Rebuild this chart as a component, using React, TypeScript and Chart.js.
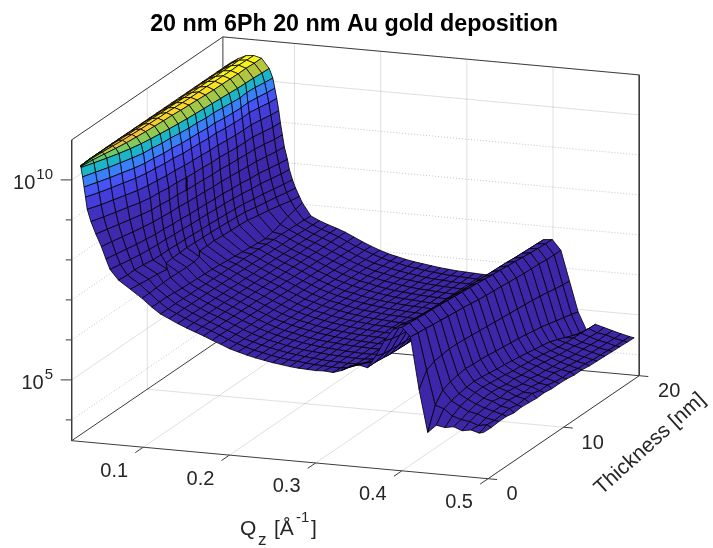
import React, { useEffect, useRef } from "react";
import { Chart, registerables } from "chart.js";

Chart.register(...registerables);

const titleText = "20 nm 6Ph 20 nm Au gold deposition";
const qTicks = [0.1, 0.2, 0.3, 0.4, 0.5];
const tTicks = [0, 10, 20];
const zMajor = [5, 10];
const zMinor = [4, 6, 7, 8, 9, 11];

// thickness rows of the surface
const thickness = [0, 1, 2, 3, 4, 5, 6, 7, 8, 9, 10, 11, 12, 13, 14, 15, 16, 17, 18, 19, 19.9];

// plateau below the critical edge: Q runs from qStart to qEdge of the row, through these fractions
const qStart = 0.027;
const plateauSteps = [0, 0.2, 0.4, 0.6, 0.8, 1];
const qEdge = [0.0278, 0.034, 0.04, 0.0455, 0.05, 0.0535, 0.056, 0.058, 0.06, 0.0615, 0.063, 0.064, 0.065, 0.066, 0.067, 0.068, 0.069, 0.0695, 0.07, 0.071, 0.0716];
const logPlateau = [
  [10.37, 10.37, 10.37, 10.36, 10.35, 10.33],
  [10.38, 10.41, 10.43, 10.43, 10.4, 10.33],
  [10.38, 10.43, 10.46, 10.47, 10.43, 10.33],
  [10.38, 10.45, 10.49, 10.5, 10.45, 10.33],
  [10.39, 10.46, 10.51, 10.52, 10.47, 10.33],
  [10.39, 10.47, 10.52, 10.54, 10.49, 10.33],
  [10.39, 10.47, 10.53, 10.55, 10.5, 10.33],
  [10.39, 10.48, 10.54, 10.56, 10.51, 10.33],
  [10.39, 10.48, 10.55, 10.57, 10.52, 10.33],
  [10.39, 10.48, 10.55, 10.58, 10.53, 10.33],
  [10.39, 10.48, 10.56, 10.58, 10.53, 10.33],
  [10.39, 10.48, 10.56, 10.58, 10.53, 10.33],
  [10.39, 10.48, 10.56, 10.58, 10.53, 10.33],
  [10.39, 10.49, 10.56, 10.59, 10.53, 10.33],
  [10.39, 10.49, 10.57, 10.6, 10.53, 10.33],
  [10.39, 10.5, 10.58, 10.6, 10.54, 10.33],
  [10.39, 10.5, 10.58, 10.61, 10.55, 10.33],
  [10.39, 10.5, 10.59, 10.61, 10.55, 10.33],
  [10.39, 10.5, 10.59, 10.62, 10.56, 10.33],
  [10.39, 10.51, 10.6, 10.62, 10.56, 10.33],
  [10.39, 10.51, 10.6, 10.62, 10.57, 10.33],
];

// the fall after the edge: Q of each row at which log10(intensity) reaches these levels
const fallLevels = [10.1, 9.85, 9.6, 9.3, 9.0, 8.7, 8.4, 8.1, 7.85, 7.6, 7.4, 7.2];
const qFall = [
  [0.0296, 0.0313, 0.033, 0.035, 0.0393, 0.045, 0.0514, 0.0567, 0.0614, 0.0714, 0.085, 0.0985],
  [0.0358, 0.0379, 0.04, 0.0423, 0.0452, 0.0494, 0.0547, 0.0597, 0.0646, 0.0729, 0.087, 0.0985],
  [0.0421, 0.0438, 0.0454, 0.0476, 0.0506, 0.0539, 0.0582, 0.063, 0.0676, 0.0723, 0.0889, 0.0975],
  [0.0471, 0.0488, 0.0505, 0.053, 0.0555, 0.0583, 0.0617, 0.0659, 0.07, 0.0737, 0.0901, 0.097],
  [0.0521, 0.0543, 0.056, 0.0582, 0.0609, 0.0625, 0.0649, 0.0682, 0.0718, 0.0761, 0.0928, 0.0965],
  [0.0563, 0.0579, 0.0595, 0.0616, 0.0643, 0.0658, 0.0676, 0.0703, 0.0729, 0.0769, 0.0826, 0.0973],
  [0.0576, 0.0594, 0.0612, 0.0634, 0.0655, 0.067, 0.0687, 0.0709, 0.0735, 0.0768, 0.0813, 0.0977],
  [0.0605, 0.0623, 0.0636, 0.0657, 0.0681, 0.069, 0.0706, 0.0729, 0.0748, 0.0777, 0.081, 0.0975],
  [0.0613, 0.0629, 0.0644, 0.0665, 0.0686, 0.0696, 0.071, 0.0734, 0.0754, 0.0781, 0.0802, 0.095],
  [0.0635, 0.0656, 0.0671, 0.0688, 0.0707, 0.0717, 0.0728, 0.0751, 0.0767, 0.0791, 0.081, 0.0865],
  [0.0652, 0.0666, 0.068, 0.0697, 0.0719, 0.0727, 0.074, 0.0758, 0.0774, 0.08, 0.0817, 0.0865],
  [0.0656, 0.0674, 0.069, 0.0708, 0.0725, 0.0735, 0.0747, 0.0767, 0.078, 0.0802, 0.0821, 0.0859],
  [0.0677, 0.0691, 0.0705, 0.0721, 0.0741, 0.075, 0.0762, 0.0779, 0.0793, 0.0816, 0.0831, 0.0869],
  [0.0675, 0.069, 0.0706, 0.0725, 0.0743, 0.0752, 0.0766, 0.0783, 0.08, 0.0824, 0.0842, 0.0877],
  [0.0692, 0.0712, 0.0726, 0.0742, 0.076, 0.077, 0.0781, 0.0802, 0.0815, 0.0836, 0.0854, 0.0885],
  [0.0708, 0.0723, 0.0737, 0.0754, 0.0772, 0.0781, 0.0793, 0.0811, 0.0828, 0.0849, 0.0865, 0.0895],
  [0.072, 0.0732, 0.0745, 0.076, 0.0778, 0.0793, 0.081, 0.0838, 0.0855, 0.088, 0.0902, 0.0933],
  [0.0709, 0.0723, 0.0738, 0.0759, 0.078, 0.08, 0.0821, 0.0846, 0.0869, 0.09, 0.0932, 0.096],
  [0.072, 0.0742, 0.0761, 0.0784, 0.0808, 0.0824, 0.085, 0.0877, 0.0902, 0.0933, 0.0962, 0.1],
  [0.0742, 0.0767, 0.079, 0.0813, 0.0836, 0.0856, 0.0876, 0.0905, 0.0932, 0.0963, 0.0996, 0.1043],
  [0.0758, 0.0781, 0.0804, 0.0827, 0.0846, 0.0869, 0.0892, 0.0928, 0.095, 0.0986, 0.1022, 0.1067],
];

// log10(intensity) at Q = 0.11 of each row
const qJoin = 0.11;
const logJoin = [7.0, 7.0, 7.0, 6.98, 6.96, 6.95, 6.94, 6.93, 6.92, 6.9, 6.88, 6.86, 6.84, 6.82, 6.8, 6.78, 6.82, 6.88, 6.95, 7.0, 7.05];

// Q_z columns beyond the edge
const qHigh = [0.12, 0.13, 0.14, 0.15, 0.16, 0.17, 0.18, 0.19, 0.2, 0.21, 0.22, 0.23, 0.24, 0.25, 0.26, 0.27, 0.28, 0.29, 0.3, 0.31, 0.32, 0.33, 0.34, 0.35, 0.36, 0.37, 0.38, 0.39, 0.4, 0.41, 0.42, 0.43, 0.44, 0.45, 0.46, 0.47, 0.48, 0.49, 0.495];
// log10(intensity), valley, Bragg ridge and noisy tail of each thickness row
const logHigh = [
  [6.85, 6.75, 6.65, 6.56, 6.48, 6.4, 6.31, 6.23, 6.14, 6.08, 6.02, 5.97, 5.93, 5.89, 5.86, 5.83, 5.81, 5.8, 5.79, 5.8, 5.78, 5.85, 5.98, 6.03, 5.98, 6.3, 6.7, 7.0, 7.07, 6.85, 5.55, 4.5, 4.7, 4.66, 4.7, 4.62, 4.66, 4.6, 4.63],
  [6.85, 6.75, 6.65, 6.56, 6.48, 6.4, 6.31, 6.22, 6.14, 6.07, 6.01, 5.97, 5.92, 5.88, 5.85, 5.83, 5.81, 5.79, 5.78, 5.77, 5.76, 5.8, 5.88, 5.95, 5.98, 6.22, 6.62, 6.98, 7.05, 6.82, 5.9, 5.05, 4.98, 4.82, 4.75, 4.72, 4.64, 4.68, 4.62],
  [6.85, 6.75, 6.65, 6.56, 6.47, 6.39, 6.3, 6.22, 6.13, 6.07, 6.01, 5.96, 5.92, 5.88, 5.85, 5.82, 5.8, 5.78, 5.77, 5.76, 5.75, 5.76, 5.8, 5.86, 5.96, 6.2, 6.58, 6.94, 7.03, 6.8, 6.0, 5.3, 5.05, 4.93, 4.82, 4.78, 4.7, 4.66, 4.64],
  [6.85, 6.74, 6.64, 6.55, 6.47, 6.39, 6.3, 6.21, 6.13, 6.06, 6.0, 5.96, 5.91, 5.87, 5.84, 5.82, 5.8, 5.78, 5.77, 5.76, 5.75, 5.75, 5.77, 5.82, 5.93, 6.18, 6.55, 6.9, 7.01, 6.77, 6.03, 5.38, 5.1, 4.98, 4.88, 4.8, 4.74, 4.68, 4.64],
  [6.84, 6.74, 6.64, 6.55, 6.47, 6.38, 6.29, 6.21, 6.12, 6.06, 6.0, 5.95, 5.91, 5.87, 5.84, 5.81, 5.79, 5.78, 5.76, 5.75, 5.74, 5.74, 5.76, 5.8, 5.92, 6.16, 6.53, 6.88, 7.0, 6.75, 6.05, 5.42, 5.13, 5.02, 4.9, 4.84, 4.74, 4.7, 4.6],
  [6.84, 6.74, 6.64, 6.55, 6.46, 6.38, 6.29, 6.2, 6.12, 6.05, 5.99, 5.95, 5.9, 5.86, 5.83, 5.81, 5.79, 5.77, 5.76, 5.75, 5.74, 5.74, 5.75, 5.79, 5.91, 6.15, 6.52, 6.86, 6.98, 6.72, 6.05, 5.45, 5.15, 5.03, 4.92, 4.8, 4.76, 4.66, 4.62],
  [6.83, 6.73, 6.63, 6.54, 6.46, 6.37, 6.28, 6.2, 6.11, 6.05, 5.99, 5.94, 5.9, 5.86, 5.83, 5.8, 5.78, 5.77, 5.75, 5.74, 5.73, 5.73, 5.75, 5.79, 5.9, 6.14, 6.5, 6.85, 6.96, 6.7, 6.03, 5.43, 5.13, 5.0, 4.9, 4.83, 4.73, 4.68, 4.6],
  [6.83, 6.73, 6.63, 6.54, 6.45, 6.37, 6.28, 6.19, 6.11, 6.04, 5.98, 5.94, 5.89, 5.85, 5.82, 5.8, 5.78, 5.76, 5.75, 5.74, 5.73, 5.73, 5.74, 5.78, 5.9, 6.14, 6.5, 6.84, 6.94, 6.68, 6.01, 5.42, 5.1, 4.98, 4.86, 4.8, 4.7, 4.69, 4.58],
  [6.82, 6.72, 6.62, 6.53, 6.45, 6.36, 6.27, 6.19, 6.1, 6.04, 5.98, 5.93, 5.89, 5.85, 5.82, 5.79, 5.77, 5.76, 5.74, 5.73, 5.72, 5.72, 5.74, 5.78, 5.9, 6.13, 6.49, 6.82, 6.92, 6.65, 5.99, 5.4, 5.07, 4.95, 4.87, 4.76, 4.71, 4.63, 4.59],
  [6.82, 6.72, 6.62, 6.53, 6.44, 6.36, 6.27, 6.18, 6.1, 6.03, 5.97, 5.93, 5.88, 5.84, 5.81, 5.79, 5.77, 5.75, 5.74, 5.73, 5.72, 5.72, 5.73, 5.78, 5.89, 6.13, 6.48, 6.8, 6.9, 6.62, 5.97, 5.37, 5.05, 4.92, 4.83, 4.77, 4.67, 4.64, 4.56],
  [6.81, 6.71, 6.61, 6.52, 6.44, 6.35, 6.26, 6.18, 6.09, 6.03, 5.97, 5.92, 5.88, 5.84, 5.81, 5.78, 5.76, 5.75, 5.73, 5.72, 5.71, 5.71, 5.73, 5.77, 5.89, 6.12, 6.47, 6.79, 6.88, 6.6, 5.95, 5.35, 5.02, 4.9, 4.82, 4.72, 4.66, 4.6, 4.56],
  [6.81, 6.71, 6.61, 6.52, 6.43, 6.35, 6.26, 6.17, 6.09, 6.02, 5.96, 5.92, 5.87, 5.83, 5.8, 5.78, 5.76, 5.74, 5.73, 5.72, 5.71, 5.71, 5.72, 5.77, 5.88, 6.12, 6.46, 6.78, 6.86, 6.58, 5.93, 5.32, 4.99, 4.87, 4.8, 4.71, 4.67, 4.57, 4.55],
  [6.8, 6.7, 6.6, 6.52, 6.43, 6.34, 6.25, 6.17, 6.08, 6.02, 5.96, 5.91, 5.87, 5.83, 5.8, 5.77, 5.75, 5.74, 5.72, 5.71, 5.7, 5.7, 5.72, 5.76, 5.88, 6.11, 6.45, 6.77, 6.84, 6.56, 5.91, 5.3, 4.96, 4.85, 4.77, 4.68, 4.62, 4.58, 4.52],
  [6.8, 6.7, 6.6, 6.51, 6.43, 6.34, 6.25, 6.16, 6.08, 6.01, 5.95, 5.91, 5.86, 5.82, 5.79, 5.77, 5.75, 5.73, 5.72, 5.71, 5.7, 5.7, 5.71, 5.76, 5.87, 6.11, 6.45, 6.76, 6.82, 6.54, 5.89, 5.27, 4.92, 4.82, 4.74, 4.66, 4.6, 4.54, 4.52],
  [6.79, 6.69, 6.59, 6.51, 6.42, 6.33, 6.24, 6.16, 6.07, 6.01, 5.95, 5.9, 5.86, 5.82, 5.79, 5.76, 5.74, 5.73, 5.71, 5.7, 5.69, 5.69, 5.71, 5.75, 5.87, 6.1, 6.44, 6.75, 6.8, 6.52, 5.87, 5.23, 4.89, 4.78, 4.7, 4.64, 4.57, 4.53, 4.49],
  [6.78, 6.68, 6.58, 6.5, 6.42, 6.33, 6.24, 6.15, 6.07, 6.0, 5.94, 5.9, 5.85, 5.81, 5.78, 5.76, 5.74, 5.72, 5.71, 5.7, 5.69, 5.69, 5.7, 5.75, 5.86, 6.1, 6.43, 6.74, 6.78, 6.5, 5.85, 5.2, 4.85, 4.74, 4.68, 4.6, 4.55, 4.5, 4.48],
  [6.78, 6.68, 6.58, 6.5, 6.41, 6.32, 6.23, 6.15, 6.06, 6.0, 5.94, 5.89, 5.85, 5.81, 5.78, 5.75, 5.73, 5.72, 5.7, 5.69, 5.68, 5.68, 5.7, 5.74, 5.86, 6.09, 6.42, 6.72, 6.76, 6.49, 5.82, 5.15, 4.78, 4.72, 4.66, 4.6, 4.54, 4.49, 4.47],
  [6.77, 6.67, 6.57, 6.5, 6.41, 6.32, 6.23, 6.14, 6.06, 5.99, 5.93, 5.89, 5.84, 5.8, 5.78, 5.75, 5.73, 5.71, 5.7, 5.69, 5.68, 5.68, 5.69, 5.74, 5.85, 6.09, 6.41, 6.71, 6.74, 6.48, 5.79, 5.1, 4.7, 4.71, 4.62, 4.58, 4.52, 4.48, 4.46],
  [6.76, 6.66, 6.57, 6.49, 6.41, 6.31, 6.22, 6.13, 6.05, 5.98, 5.93, 5.88, 5.84, 5.8, 5.77, 5.74, 5.72, 5.71, 5.69, 5.68, 5.68, 5.67, 5.69, 5.73, 5.85, 6.08, 6.4, 6.7, 6.72, 6.46, 5.75, 5.05, 4.62, 4.7, 4.63, 4.56, 4.52, 4.46, 4.45],
  [6.75, 6.65, 6.56, 6.49, 6.41, 6.31, 6.21, 6.13, 6.05, 5.98, 5.92, 5.88, 5.83, 5.8, 5.77, 5.74, 5.72, 5.7, 5.69, 5.68, 5.67, 5.67, 5.68, 5.73, 5.84, 6.08, 6.4, 6.69, 6.71, 6.45, 5.72, 5.0, 4.55, 4.69, 4.6, 4.57, 4.5, 4.46, 4.44],
  [6.74, 6.64, 6.56, 6.49, 6.41, 6.31, 6.21, 6.12, 6.04, 5.97, 5.92, 5.87, 5.83, 5.8, 5.77, 5.74, 5.72, 5.7, 5.69, 5.68, 5.67, 5.67, 5.68, 5.72, 5.84, 6.07, 6.39, 6.68, 6.7, 6.45, 5.7, 4.95, 4.5, 4.68, 4.62, 4.56, 4.5, 4.45, 4.43],
];

// every row as a list of (Q, log10 I) nodes
const surfaceRows = thickness.map((t, i) => {
  const nodes: { q: number; z: number }[] = [];
  plateauSteps.forEach((f, k) => nodes.push({ q: qStart + (qEdge[i] - qStart) * f, z: logPlateau[i][k] }));
  fallLevels.forEach((z, k) => nodes.push({ q: qFall[i][k], z }));
  nodes.push({ q: qJoin, z: logJoin[i] });
  qHigh.forEach((q, k) => nodes.push({ q, z: logHigh[i][k] }));
  return { t, nodes };
});

// axes limits of the 3-D box
const qMin = 0.017, qMax = 0.5, tMax = 20, zMin = 3.48, zMax = 11;
const cLogMax = 10.6;

// orthographic view: plane position of a (Q, T, log10 I) triple
const project = (q: number, t: number, z: number) => ({
  x: 71.7 + (q - qMin) * 862 + t * 7.56,
  y: 440.7 + (q - qMin) * 78.7 - t * 5.15 - (z - zMin) * 40,
});

const parulaStops = [
  [62, 38, 168], [71, 70, 238], [64, 113, 254], [45, 151, 238], [26, 178, 206],
  [38, 192, 158], [100, 205, 110], [180, 198, 60], [247, 186, 61], [250, 213, 40], [249, 251, 21],
];
const parula = (v: number) => {
  const p = Math.max(0, Math.min(0.9999, v)) * 10;
  const i = Math.floor(p), f = p - i;
  const a = parulaStops[i], b = parulaStops[i + 1];
  return `rgb(${a.map((c, k) => Math.round(c + (b[k] - c) * f)).join(",")})`;
};

const lineSet = (pts: { x: number; y: number }[], color: string, width: number, dash: number[] = []) => ({
  data: pts, showLine: true, pointRadius: 0, borderColor: color, borderWidth: width, borderDash: dash,
  fill: false, tension: 0, clip: false,
});

function surface(out: any[]) {
  // painted back to front: high thickness first, low Q first
  for (let i = surfaceRows.length - 2; i >= 0; i--) {
    const a = surfaceRows[i], b = surfaceRows[i + 1];
    for (let j = 0; j < a.nodes.length - 1; j++) {
      const quad = [
        project(a.nodes[j].q, a.t, a.nodes[j].z),
        project(a.nodes[j + 1].q, a.t, a.nodes[j + 1].z),
        project(b.nodes[j + 1].q, b.t, b.nodes[j + 1].z),
        project(b.nodes[j].q, b.t, b.nodes[j].z),
        project(a.nodes[j].q, a.t, a.nodes[j].z),
      ];
      const mean = (a.nodes[j].z + a.nodes[j + 1].z + b.nodes[j].z + b.nodes[j + 1].z) / 4;
      out.push({
        data: quad, showLine: true, pointRadius: 0, borderColor: "rgba(0,0,0,0.9)", borderWidth: 0.9,
        borderJoinStyle: "bevel", fill: "shape", backgroundColor: parula(Math.pow(10, mean - cLogMax)),
        tension: 0, clip: false,
      });
    }
  }
}

function buildDatasets() {
  const out: any[] = [];
  const gridMajor = "rgba(38,38,38,0.15)";
  const gridMinor = "rgba(38,38,38,0.28)";
  const dark = "#3c3c3c";

  for (const q of qTicks) {
    out.push(lineSet([project(q, 0, zMin), project(q, tMax, zMin), project(q, tMax, zMax)], gridMajor, 1));
  }
  for (const t of tTicks.filter((v) => v > 0 && v < tMax)) {
    out.push(lineSet([project(qMax, t, zMin), project(qMin, t, zMin), project(qMin, t, zMax)], gridMajor, 1));
  }
  for (const z of zMinor) {
    out.push(lineSet([project(qMin, 0, z), project(qMin, tMax, z), project(qMax, tMax, z)], gridMinor, 1, [1, 2]));
  }
  for (const z of zMajor) {
    out.push(lineSet([project(qMin, 0, z), project(qMin, tMax, z), project(qMax, tMax, z)], gridMajor, 1));
  }
  const box: [number, number, number][][] = [
    [[qMin, 0, zMax], [qMin, tMax, zMax], [qMax, tMax, zMax], [qMax, tMax, zMin], [qMin, tMax, zMin], [qMin, tMax, zMax]],
    [[qMin, 0, zMin], [qMin, tMax, zMin]],
    [[qMin, 0, zMax], [qMin, 0, zMin], [qMax, 0, zMin], [qMax, tMax, zMin]],
  ];
  for (const b of box) out.push(lineSet(b.map(([q, t, z]) => project(q, t, z)), dark, 1));
  for (const q of qTicks) out.push(lineSet([project(q, 0, zMin), project(q, -1.05, zMin)], dark, 1));
  for (const t of tTicks) out.push(lineSet([project(qMax, t, zMin), project(qMax + 0.0105, t, zMin)], dark, 1));
  for (const z of [...zMajor, ...zMinor.filter((v) => v < 11)]) {
    const p = project(qMin, 0, z);
    out.push(lineSet([p, { x: p.x - (zMajor.includes(z) ? 11 : 6), y: p.y }], dark, 1));
  }
  surface(out);
  return out.reverse();
}

const ink = "#262626";
const font = "'Liberation Sans', Arial, sans-serif";
const tLabelDx = [24, 29, 30];

const textPlugin = {
  id: "axisText",
  afterDraw(chart: any) {
    const { ctx, scales } = chart;
    const px = (p: { x: number; y: number }) => ({ x: scales.x.getPixelForValue(p.x), y: scales.y.getPixelForValue(p.y) });
    ctx.save();
    ctx.fillStyle = "#000";
    ctx.textAlign = "center";
    ctx.textBaseline = "middle";
    ctx.font = `bold 23.3px ${font}`;
    ctx.fillText(titleText, 354, 25);

    ctx.fillStyle = ink;
    ctx.font = `20px ${font}`;
    for (const q of qTicks) {
      const p = px(project(q, 0, zMin));
      ctx.fillText(q.toFixed(1), p.x - 29, p.y + 24);
    }
    tTicks.forEach((t, k) => {
      const p = px(project(qMax, t, zMin));
      ctx.fillText(String(t), p.x + tLabelDx[k], p.y + 16);
    });
    ctx.textAlign = "left";
    for (const z of zMajor) {
      const p = px(project(qMin, 0, z));
      const sup = String(z);
      ctx.font = `15px ${font}`;
      const sw = ctx.measureText(sup).width;
      ctx.font = `20px ${font}`;
      const bw = ctx.measureText("10").width;
      const x0 = 53 - sw - bw - 1;
      ctx.fillText("10", x0, p.y + 3.5);
      ctx.font = `15px ${font}`;
      ctx.fillText(sup, x0 + bw + 1, p.y - 5);
    }
    // Q_z label
    ctx.font = `21px ${font}`;
    ctx.fillText("Q", 240, 529);
    ctx.font = `17px ${font}`;
    ctx.fillText("z", 258, 540);
    ctx.font = `21px ${font}`;
    ctx.fillText("[Å", 274, 529);
    ctx.font = `15px ${font}`;
    ctx.fillText("-1", 296, 518);
    ctx.font = `21px ${font}`;
    ctx.fillText("]", 311, 529);
    // Thickness label
    ctx.translate(650, 444);
    ctx.rotate((-42 * Math.PI) / 180);
    ctx.textAlign = "center";
    ctx.font = `21px ${font}`;
    ctx.fillText("Thickness [nm]", 0, 0);
    ctx.restore();
  },
};

export default function App() {
  const ref = useRef<HTMLCanvasElement>(null);
  useEffect(() => {
    const chart = new Chart(ref.current as HTMLCanvasElement, {
      type: "scatter",
      data: { datasets: buildDatasets() },
      options: {
        animation: false,
        responsive: false,
        events: [],
        layout: { padding: 0 },
        plugins: { legend: { display: false }, tooltip: { enabled: false }, title: { display: false } },
        scales: {
          x: { type: "linear", min: 0, max: 713, display: false },
          y: { type: "linear", min: 0, max: 548, reverse: true, display: false },
        },
      },
      plugins: [textPlugin],
    } as any);
    return () => chart.destroy();
  }, []);
  return (
    <div style={{ position: "fixed", left: 0, top: 0, width: 713, height: 548, background: "#fff" }}>
      <canvas ref={ref} width={713} height={548} style={{ display: "block" }} />
    </div>
  );
}
